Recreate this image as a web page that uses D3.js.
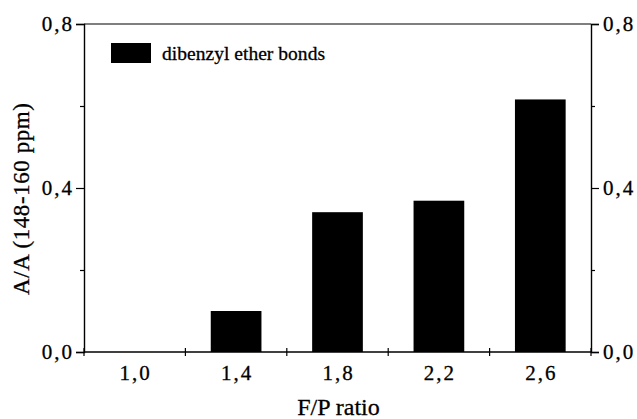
<!DOCTYPE html>
<html>
<head>
<meta charset="utf-8">
<script src="https://cdn.jsdelivr.net/npm/d3@7"></script>
<style>
  html, body { margin: 0; padding: 0; background: #fff; }
  svg text { font-family: "Times New Roman", Times, Tinos, "Liberation Serif", serif; fill: #000; stroke: #000; stroke-width: 0.3px; }
</style>
</head>
<body>
<svg id="chart" width="637" height="419"></svg>
<script>
// F/P molar ratio categories and relative area of dibenzyl ether bonds
const categories = ["1,0", "1,4", "1,8", "2,2", "2,6"];
const values = [0.0, 0.10, 0.341, 0.369, 0.616];
const yMajorTicks = [0, 0.4, 0.8];
const yMinorTicks = [0.2, 0.6];
const seriesName = "dibenzyl ether bonds";
const xTitle = "F/P ratio";
const yTitle = "A/A (148-160 ppm)";

const fmt = d => d3.format(".1f")(d).replace(".", ",");

const svg = d3.select("#chart");
const plotLeft = 84, plotRight = 591, plotTop = 24, plotBottom = 352;
const labelSize = 21, labelSpacing = 2;

const x = d3.scaleBand().domain(categories).range([plotLeft, plotRight]).paddingInner(0.5).paddingOuter(0.25);
const xb = d3.scaleBand().domain(categories).range([plotLeft, plotRight]).padding(0);
const y = d3.scaleLinear().domain([0, 0.8]).range([plotBottom, plotTop]);

// bars
svg.append("g").selectAll("rect").data(values).join("rect")
  .attr("x", (d, i) => x(categories[i]))
  .attr("width", x.bandwidth())
  .attr("y", d => y(d))
  .attr("height", d => y(0) - y(d))
  .attr("fill", "#000");

// top frame line
svg.append("line").attr("x1", plotLeft).attr("x2", plotRight).attr("y1", plotTop).attr("y2", plotTop)
  .attr("stroke", "#000").attr("stroke-width", 1.2);

// left axis
const yLeft = svg.append("g").attr("transform", `translate(${plotLeft},0)`)
  .call(d3.axisLeft(y).tickValues(yMajorTicks).tickFormat(fmt).tickSize(8).tickPadding(4 - labelSpacing));
yLeft.append("g").call(d3.axisLeft(y).tickValues(yMinorTicks).tickFormat("").tickSize(4))
  .select(".domain").remove();

// right axis
const yRight = svg.append("g").attr("transform", `translate(${plotRight},0)`)
  .call(d3.axisRight(y).tickValues(yMajorTicks).tickFormat(fmt).tickSize(8).tickPadding(4));
yRight.append("g").call(d3.axisRight(y).tickValues(yMinorTicks).tickFormat("").tickSize(4))
  .select(".domain").remove();

[yLeft, yRight].forEach(g => {
  g.attr("font-family", null);
  g.selectAll(".domain").attr("stroke-width", 1.4);
  g.selectAll("line").attr("stroke-width", 1.2);
  g.selectAll("text").attr("font-size", labelSize)
    .attr("letter-spacing", labelSpacing).attr("dy", "0.32em");
});

// bottom axis with category labels
const xAxis = svg.append("g").attr("transform", `translate(0,${plotBottom})`)
  .call(d3.axisBottom(x).tickSizeOuter(0).tickSize(0).tickPadding(14));
xAxis.attr("font-family", null);
xAxis.select(".domain").remove();
xAxis.selectAll("text").attr("font-size", labelSize)
  .attr("letter-spacing", labelSpacing).attr("dx", labelSpacing / 2).attr("dy", "0.68em");
svg.append("line").attr("x1", plotLeft).attr("x2", plotRight).attr("y1", plotBottom).attr("y2", plotBottom)
  .attr("stroke", "#000").attr("stroke-width", 1.4);

// separator ticks between categories, crossing the axis
const boundaries = categories.map(c => xb(c)).concat([plotRight]);
svg.append("g").selectAll("line").data(boundaries).join("line")
  .attr("x1", d => d).attr("x2", d => d)
  .attr("y1", plotBottom - 4).attr("y2", plotBottom + 4)
  .attr("stroke", "#000").attr("stroke-width", 1.2);

// legend
svg.append("rect").attr("x", 111).attr("y", 43).attr("width", 40).attr("height", 20).attr("fill", "#000");
svg.append("text").attr("x", 162).attr("y", 60).attr("font-size", 19.5)
  .attr("textLength", 163).attr("lengthAdjust", "spacing").text(seriesName);

// axis titles
svg.append("text").attr("x", 338.5).attr("y", 415).attr("text-anchor", "middle")
  .attr("font-size", 24).text(xTitle);
svg.append("text").attr("transform", "translate(29,199) rotate(-90)").attr("text-anchor", "middle")
  .attr("font-size", 23).attr("textLength", 192).attr("lengthAdjust", "spacing").text(yTitle);
</script>
</body>
</html>
